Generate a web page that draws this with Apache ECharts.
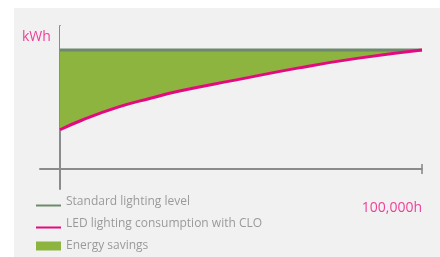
<!DOCTYPE html>
<html>
<head>
<meta charset="utf-8">
<script src="https://cdn.jsdelivr.net/npm/echarts@6/dist/echarts.min.js"></script>
<style>
  html, body { margin: 0; padding: 0; background: #fff; }
  .panel { position: absolute; left: 14px; top: 8px; width: 426px; height: 249px; background: #f1f1f1; }
  #chart { position: absolute; left: 0; top: 0; width: 440px; height: 257px; }
</style>
</head>
<body>
<div class="panel"></div>
<div id="chart"></div>
<script>
// operating hours (x) and relative consumption (y, standard level = 100)
const hours = [0, 6000, 16000, 25000, 33000, 48000, 66000, 82000, 100000]
const ledLevel = [33, 41, 52, 59.5, 65.5, 74.5, 85, 93, 100]
const standardLevel = 100
const seriesNames = ['Standard lighting level', 'LED lighting consumption with CLO', 'Energy savings']
const maxLabel = '100,000h'
const unitLabel = 'kWh'

const chart = echarts.init(document.getElementById('chart'))

const ledData = hours.map((h, i) => [h, ledLevel[i]])
const standardData = hours.map(h => [h, standardLevel])

const lineIcon = 'path://M0,0 M0,7 L25,7 L25,9 L0,9 Z'

const options = {
  animation: false,
  grid: { left: 40, right: 18, top: 26, bottom: 68 },
  graphic: [{
    type: 'text',
    left: 22,
    top: 30,
    style: { text: unitLabel, fill: '#ee3f98', font: '14px "Open Sans"' }
  }],
  legend: {
    orient: 'vertical',
    left: 36,
    top: 195,
    padding: 0,
    itemWidth: 25,
    itemHeight: 9,
    itemGap: 8,
    textStyle: { color: '#9a9a9a', fontSize: 12, fontFamily: 'Open Sans', lineHeight: 14 },
    data: [
      { name: seriesNames[0], icon: lineIcon },
      { name: seriesNames[1], icon: lineIcon },
      { name: seriesNames[2], icon: 'rect' }
    ]
  },
  xAxis: {
    type: 'value',
    min: -5525,
    max: 100000,
    splitLine: { show: false },
    axisTick: { show: false },
    axisLine: { lineStyle: { color: '#8a8b8d', width: 2 } },
    axisLabel: {
      customValues: [100000],
      formatter: () => maxLabel,
      align: 'right',
      margin: 12,
      color: '#ee3f98',
      fontSize: 14,
      fontFamily: 'Open Sans'
    }
  },
  yAxis: {
    type: 'value',
    min: -16.8,
    max: 120.2,
    splitLine: { show: false },
    axisTick: { show: false },
    axisLabel: { show: false },
    axisLine: { lineStyle: { color: '#8a8b8d', width: 2 } }
  },
  series: [
    {
      // green area from the LED curve up to the top of the plot
      name: seriesNames[2],
      type: 'line',
      smooth: true,
      symbol: 'none',
      data: ledData,
      color: '#8db43e',
      lineStyle: { opacity: 0 },
      areaStyle: { color: '#8db43e', opacity: 1, origin: 'end' }
    },
    {
      // background-coloured mask above the standard level
      name: 'mask',
      type: 'line',
      symbol: 'none',
      data: standardData,
      lineStyle: { opacity: 0 },
      areaStyle: { color: '#f1f1f1', opacity: 1, origin: 'end' },
      silent: true
    },
    {
      name: seriesNames[0],
      type: 'line',
      symbol: 'none',
      data: standardData,
      color: '#6e8a6c',
      lineStyle: { width: 3, color: '#6e8a6c' }
    },
    {
      name: seriesNames[1],
      type: 'line',
      smooth: true,
      symbol: 'none',
      data: ledData,
      color: '#e5097f',
      lineStyle: { width: 3, color: '#e5097f' }
    },
    {
      name: 'endTick',
      type: 'scatter',
      symbol: 'rect',
      symbolSize: [2, 10],
      data: [[100000, 0]],
      itemStyle: { color: '#8a8b8d' },
      silent: true
    }
  ]
}

chart.setOption(options)
</script>
</body>
</html>
